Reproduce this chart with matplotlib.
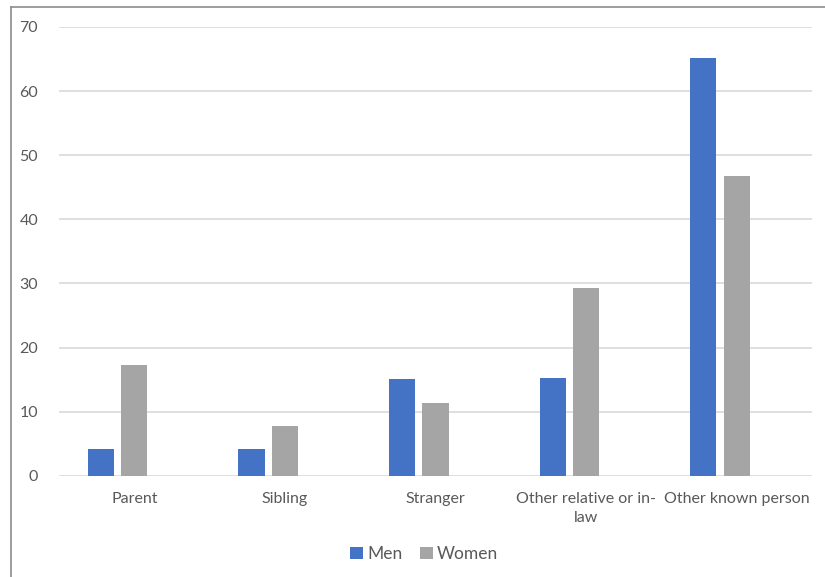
import numpy as np
import matplotlib
matplotlib.use("Agg")
import matplotlib.pyplot as plt
from matplotlib.lines import Line2D

plt.rcParams["font.family"] = ["Lato", "DejaVu Sans"]

categories = ["Parent", "Sibling", "Stranger", "Other relative or in-\nlaw", "Other known person"]
men = [4.1, 4.1, 15.1, 15.3, 65.1]
women = [17.3, 7.8, 11.4, 29.3, 46.8]

blue = "#4472C4"
gray = "#A5A5A5"
text_col = "#595959"
grid_col = "#D9D9D9"

fig = plt.figure(figsize=(8.25, 5.77), dpi=100)
ax = fig.add_axes([59 / 825, (577 - 475.7) / 577, (812 - 59) / 825, (475.7 - 27) / 577])

x = np.arange(len(categories))
step = 0.222
width = 0.174
ax.bar(x - step, men, width, color=blue, label="Men", zorder=3)
ax.bar(x, women, width, color=gray, label="Women", zorder=3)

ax.set_xlim(-0.5, len(categories) - 0.5)
ax.set_ylim(0, 70)
ax.set_yticks(range(0, 71, 10))
ax.set_xticks(x)
ax.set_xticklabels(categories, fontsize=11.5, color=text_col, linespacing=1.45)
ax.tick_params(axis="y", labelsize=11.5, labelcolor=text_col, length=0, pad=15)
ax.tick_params(axis="x", length=0, pad=12)
ax.grid(axis="y", color=grid_col, linewidth=1.2, zorder=0)
for s in ax.spines.values():
	s.set_visible(False)

leg = ax.legend(loc="center", bbox_to_anchor=(424 / 825, 1 - 554 / 577), bbox_transform=fig.transFigure,
	ncol=2, frameon=False, fontsize=12.5, handlelength=0.75, handleheight=0.75,
	handletextpad=0.25, columnspacing=1.0)
for t in leg.get_texts():
	t.set_color(text_col)

# outer chart border (left and top only visible)
fig.add_artist(Line2D([11 / 825, 11 / 825], [0, 1 - 7 / 577], color="#8C8C8C", linewidth=1.2))
fig.add_artist(Line2D([11 / 825, 1], [1 - 7 / 577, 1 - 7 / 577], color="#8C8C8C", linewidth=1.2))

fig.savefig("out.png", dpi=100)
